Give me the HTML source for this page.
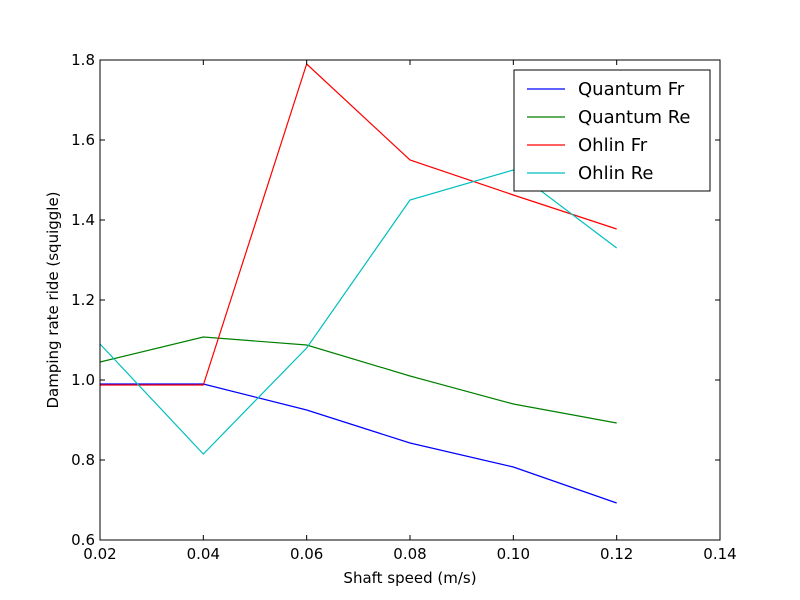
<!DOCTYPE html>
<html><head><meta charset="utf-8"><style>
html,body{margin:0;padding:0;background:#fff;}
svg{display:block;font-family:"DejaVu Sans","Liberation Sans",sans-serif;}
</style></head><body>
<svg id="chart" width="800" height="600">
<rect width="800" height="600" fill="#fff"/>
<g id="plot"></g>
</svg>
<script>
const xValues = [0.02, 0.04, 0.06, 0.08, 0.10, 0.12];
const quantumFr = [0.99, 0.99, 0.925, 0.8425, 0.7825, 0.6925];
const quantumRe = [1.045, 1.1075, 1.0875, 1.01, 0.94, 0.8925];
const ohlinFr = [0.9875, 0.9875, 1.79, 1.55, 1.4625, 1.3775];
const ohlinRe = [1.09, 0.815, 1.08, 1.45, 1.525, 1.33];
const seriesNames = ["Quantum Fr", "Quantum Re", "Ohlin Fr", "Ohlin Re"];
const xTicks = [0.02, 0.04, 0.06, 0.08, 0.10, 0.12, 0.14];
const yTicks = [0.6, 0.8, 1.0, 1.2, 1.4, 1.6, 1.8];

const L=100,R=720,T=60,B=540;
const xMin=0.02,xMax=0.14,yMin=0.6,yMax=1.8;
const sx=v=>L+(v-xMin)/(xMax-xMin)*(R-L);
const sy=v=>B-(v-yMin)/(yMax-yMin)*(B-T);
const NS="http://www.w3.org/2000/svg";
const g=document.getElementById('plot');
function mk(tag,attrs,parent){const e=document.createElementNS(NS,tag);for(const k in attrs)e.setAttribute(k,attrs[k]);(parent||g).appendChild(e);return e;}

const colors=["#0000ff","#008000","#ff0000","#00bfbf"];
const allSeries=[quantumFr,quantumRe,ohlinFr,ohlinRe];
allSeries.forEach((s,i)=>{
  const pts=s.map((v,j)=>sx(xValues[j])+","+sy(v)).join(" ");
  const p=mk('polyline',{points:pts,fill:"none",stroke:colors[i],"stroke-width":1.2});
  
  
});

const frame=mk('rect',{x:L,y:T,width:R-L,height:B-T,fill:"none",stroke:"#000","stroke-width":1});



xTicks.forEach(t=>{
  const x=sx(t);
  mk('line',{x1:x,y1:B,x2:x,y2:B-5,stroke:"#000"});
  mk('line',{x1:x,y1:T,x2:x,y2:T+5,stroke:"#000"});
  const tx=mk('text',{x:x,y:B+19,"text-anchor":"middle","font-size":15});
  tx.textContent=t.toFixed(2);
  
  
});
yTicks.forEach(t=>{
  const y=sy(t);
  mk('line',{x1:L,y1:y,x2:L+5,y2:y,stroke:"#000"});
  mk('line',{x1:R,y1:y,x2:R-5,y2:y,stroke:"#000"});
  const tx=mk('text',{x:L-5,y:y+5,"text-anchor":"end","font-size":15});
  tx.textContent=t.toFixed(1);
  
  
});

const xt=mk('text',{x:(L+R)/2,y:583,"text-anchor":"middle","font-size":15});
xt.textContent="Shaft speed (m/s)";


const yt=mk('text',{x:0,y:0,"text-anchor":"middle","font-size":15,transform:"translate(58,300) rotate(-90)"});
yt.textContent="Damping rate ride (squiggle)";



const lg=mk('g',{});


mk('rect',{x:514,y:70,width:196,height:121,fill:"#fff",stroke:"#000"},lg);
seriesNames.forEach((n,i)=>{
  const y=89+i*28;
  mk('line',{x1:527,y1:y,x2:565,y2:y,stroke:colors[i],"stroke-width":1.2},lg);
  const t=mk('text',{x:578,y:y+6,"font-size":18},lg);
  t.textContent=n;
  
  
});
</script>
</body></html>
